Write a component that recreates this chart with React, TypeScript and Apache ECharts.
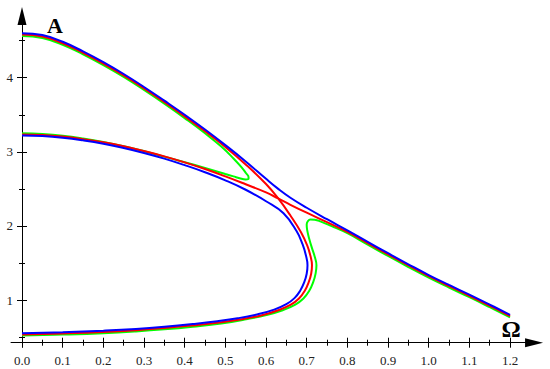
import React, { useEffect, useRef } from 'react';
import * as echarts from 'echarts';

// ---- data: [Omega, A] pairs ----
const blueUpper: [number, number][] = [
  [0, 4.6], [0.05, 4.575], [0.1, 4.485], [0.15, 4.355], [0.2, 4.21], [0.25, 4.05], [0.3, 3.875],
  [0.35, 3.69], [0.4, 3.5], [0.45, 3.3], [0.5, 3.09], [0.55, 2.87], [0.6, 2.635], [0.63, 2.5],
  [0.66, 2.38], [0.7, 2.245], [0.75, 2.09], [0.8, 1.94], [0.85, 1.785], [0.9, 1.632], [0.95, 1.482],
  [1.0, 1.337], [1.05, 1.203], [1.1, 1.072], [1.15, 0.938], [1.2, 0.8],
];
const blueLower: [number, number][] = [
  [0, 3.22], [0.05, 3.212], [0.1, 3.19], [0.15, 3.155], [0.2, 3.11], [0.25, 3.052], [0.3, 2.985],
  [0.35, 2.908], [0.4, 2.82], [0.45, 2.724], [0.5, 2.615], [0.55, 2.488], [0.6, 2.333], [0.643, 2.17],
  [0.675, 1.93], [0.69, 1.75], [0.698, 1.605], [0.702, 1.47], [0.7, 1.355], [0.694, 1.24], [0.684, 1.125],
  [0.67, 1.025], [0.65, 0.943], [0.62, 0.87], [0.58, 0.808], [0.53, 0.753], [0.48, 0.713], [0.42, 0.675],
  [0.35, 0.638], [0.28, 0.609], [0.2, 0.586], [0.1, 0.565], [0, 0.55],
];
const redFirst: [number, number][] = [
  [0, 4.582], [0.05, 4.555], [0.1, 4.465], [0.15, 4.335], [0.2, 4.19], [0.25, 4.03], [0.3, 3.855],
  [0.35, 3.67], [0.4, 3.478], [0.45, 3.277], [0.5, 3.065], [0.55, 2.83], [0.6, 2.565], [0.63, 2.37],
  [0.66, 2.14], [0.686, 1.915], [0.701, 1.74], [0.709, 1.6], [0.713, 1.47], [0.711, 1.355], [0.705, 1.24],
  [0.695, 1.122], [0.681, 1.02], [0.661, 0.936], [0.63, 0.862], [0.59, 0.795], [0.54, 0.74], [0.49, 0.699],
  [0.42, 0.657], [0.35, 0.621], [0.28, 0.593], [0.2, 0.569], [0.1, 0.549], [0, 0.535],
];
const redSecond: [number, number][] = [
  [0, 3.235], [0.05, 3.227], [0.1, 3.205], [0.15, 3.171], [0.2, 3.128], [0.25, 3.074], [0.3, 3.01],
  [0.35, 2.938], [0.4, 2.857], [0.45, 2.767], [0.5, 2.668], [0.55, 2.562], [0.6, 2.452], [0.63, 2.37],
  [0.66, 2.285], [0.7, 2.178], [0.75, 2.05], [0.8, 1.918], [0.85, 1.768], [0.9, 1.615], [0.95, 1.466],
  [1.0, 1.322], [1.05, 1.188], [1.1, 1.057], [1.15, 0.922], [1.2, 0.784],
];
const greenFirst: [number, number][] = [
  [0, 4.563], [0.05, 4.535], [0.1, 4.445], [0.15, 4.315], [0.2, 4.17], [0.25, 4.01], [0.3, 3.835],
  [0.35, 3.65], [0.4, 3.455], [0.45, 3.25], [0.49, 3.07], [0.52, 2.91], [0.54, 2.79], [0.551, 2.71],
  [0.557, 2.66], [0.557, 2.635], [0.55, 2.626], [0.535, 2.643], [0.52, 2.668], [0.5, 2.7],
  [0.45, 2.782], [0.4, 2.86], [0.35, 2.935], [0.3, 3.008], [0.25, 3.075], [0.2, 3.133], [0.15, 3.18],
  [0.1, 3.217], [0.05, 3.24], [0, 3.25],
];
const greenSecond: [number, number][] = [
  [0, 0.52], [0.1, 0.533], [0.2, 0.552], [0.28, 0.576], [0.35, 0.604], [0.42, 0.64], [0.49, 0.684],
  [0.551, 0.74], [0.601, 0.797], [0.641, 0.862], [0.672, 0.937], [0.692, 1.02], [0.706, 1.12],
  [0.716, 1.24], [0.722, 1.36], [0.724, 1.47], [0.72, 1.58], [0.713, 1.7], [0.706, 1.83], [0.701, 1.95],
  [0.7, 2.02], [0.703, 2.064], [0.709, 2.087], [0.72, 2.084], [0.735, 2.058], [0.76, 2.0], [0.8, 1.902],
  [0.85, 1.748], [0.9, 1.594], [0.95, 1.445], [1.0, 1.302], [1.05, 1.168], [1.1, 1.038], [1.15, 0.903],
  [1.2, 0.765],
];

// tick settings
const X_TICK_MIN = 0;
const X_TICK_MAX = 1.2;
const X_TICK_STEP = 0.1;
const Y_MAJOR = [1, 4, 1];
const Y_MINOR = [0.5, 4.5, 0.5];
const X_AXIS_NAME = 'Ω';
const Y_AXIS_NAME = 'A';

// ---- layout ----
const W = 550;
const H = 369;
const X0 = 22; // pixel of Omega = 0
const KX = 406.7; // px per unit Omega
const Y0 = 374.1; // pixel of A = 0
const KY = 74.1; // px per unit A
const px = (v: number) => X0 + KX * v;
const py = (a: number) => Y0 - KY * a;
const X_LINE = [-0.027, 1.259];
const Y_LINE = [0.366, 4.833];
const X_AXIS_AT = 0.4237;

const FONT = 'Liberation Serif';
const BLACK = '#000';

export default function App() {
  const ref = useRef<HTMLDivElement>(null);
  useEffect(() => {
    document.body.style.margin = '0';
    if (!ref.current) return;
    const chart = echarts.init(ref.current, undefined, { renderer: 'svg' });

    const hiddenAxis = (gridIndex: number) => ({
      type: 'value', gridIndex, show: false, min: 0, max: 1,
    });
    const tickLine = { color: BLACK, width: 1 };

    const xTickAxis = (inside: boolean) => ({
      type: 'value', gridIndex: 1, position: 'bottom', min: X_TICK_MIN, max: X_TICK_MAX,
      interval: X_TICK_STEP,
      axisLine: { show: false, onZero: false },
      axisTick: { show: true, inside, length: 5, lineStyle: tickLine },
      minorTick: { show: true, splitNumber: 2, length: 3, lineStyle: tickLine },
      splitLine: { show: false }, minorSplitLine: { show: false },
      axisLabel: inside ? { show: false } : {
        show: true, margin: 11, fontFamily: FONT, fontSize: 13, color: '#222',
        formatter: (v: number) => v.toFixed(1),
      },
    });
    const yTickAxis = (gridIndex: number, r: number[], len: number, inside: boolean, label: boolean) => ({
      type: 'value', gridIndex, position: 'left', min: r[0], max: r[1], interval: r[2],
      axisLine: { show: false, onZero: false },
      axisTick: { show: true, inside, length: len, lineStyle: tickLine },
      splitLine: { show: false },
      axisLabel: label ? {
        show: true, margin: 9, fontFamily: FONT, fontSize: 13, color: '#222',
        formatter: (v: number) => String(v),
      } : { show: false },
    });
    const arrowLine = {
      show: true, onZero: false, symbol: ['none', 'triangle'], symbolSize: [9, 18],
      lineStyle: { color: BLACK, width: 1 },
    };

    const mk = (name: string, data: [number, number][], color: string) => ({
      type: 'line', name, data, xAxisIndex: 0, yAxisIndex: 0, symbol: 'none', showSymbol: false,
      smooth: 0.45, lineStyle: { color, width: 2 }, itemStyle: { color }, silent: true,
    });

    chart.setOption({
      animation: false,
      backgroundColor: '#fff',
      grid: [
        {
          left: px(X_LINE[0]), top: py(Y_LINE[1]), width: px(X_LINE[1]) - px(X_LINE[0]),
          height: py(Y_LINE[0]) - py(Y_LINE[1]), outerBoundsMode: 'none',
        },
        {
          left: px(X_TICK_MIN), width: px(X_TICK_MAX) - px(X_TICK_MIN), top: 16,
          height: py(X_AXIS_AT) - 16, outerBoundsMode: 'none',
        },
        {
          left: px(0), width: 100, top: py(Y_MINOR[1]), height: py(Y_MINOR[0]) - py(Y_MINOR[1]),
          outerBoundsMode: 'none',
        },
        {
          left: px(0), width: 100, top: py(Y_MAJOR[1]), height: py(Y_MAJOR[0]) - py(Y_MAJOR[1]),
          outerBoundsMode: 'none',
        },
      ],
      xAxis: [
        {
          type: 'value', gridIndex: 0, position: 'bottom', min: X_LINE[0], max: X_LINE[1],
          offset: -(py(Y_LINE[0]) - py(X_AXIS_AT)),
          axisLine: arrowLine, axisTick: { show: false }, axisLabel: { show: false },
          splitLine: { show: false },
        },
        xTickAxis(false),
        xTickAxis(true),
        hiddenAxis(2),
        hiddenAxis(3),
      ],
      yAxis: [
        {
          type: 'value', gridIndex: 0, position: 'left', min: Y_LINE[0], max: Y_LINE[1],
          offset: -(px(0) - px(X_LINE[0])),
          axisLine: arrowLine, axisTick: { show: false }, axisLabel: { show: false },
          splitLine: { show: false },
        },
        hiddenAxis(1),
        yTickAxis(2, Y_MINOR, 3, false, false),
        yTickAxis(2, Y_MINOR, 3, true, false),
        yTickAxis(3, Y_MAJOR, 5, false, true),
        yTickAxis(3, Y_MAJOR, 5, true, false),
      ],
      series: [
        mk('green1', greenFirst, '#00ff00'),
        mk('green2', greenSecond, '#00ff00'),
        mk('red1', redFirst, '#ff0000'),
        mk('red2', redSecond, '#ff0000'),
        mk('blue1', blueUpper, '#0000ff'),
        mk('blue2', blueLower, '#0000ff'),
      ],
      graphic: [
        {
          type: 'text', x: 55, y: 25.5,
          style: {
            text: Y_AXIS_NAME, font: `bold 22px ${FONT}`, fill: BLACK,
            align: 'center', verticalAlign: 'middle', textAlign: 'center', textVerticalAlign: 'middle',
          },
        },
        {
          type: 'text', x: 511, y: 328.5,
          style: {
            text: X_AXIS_NAME, font: `bold 24px ${FONT}`, fill: BLACK,
            align: 'center', verticalAlign: 'middle', textAlign: 'center', textVerticalAlign: 'middle',
          },
        },
      ],
    });
    return () => chart.dispose();
  }, []);
  return <div ref={ref} style={{ width: W, height: H }} />;
}
